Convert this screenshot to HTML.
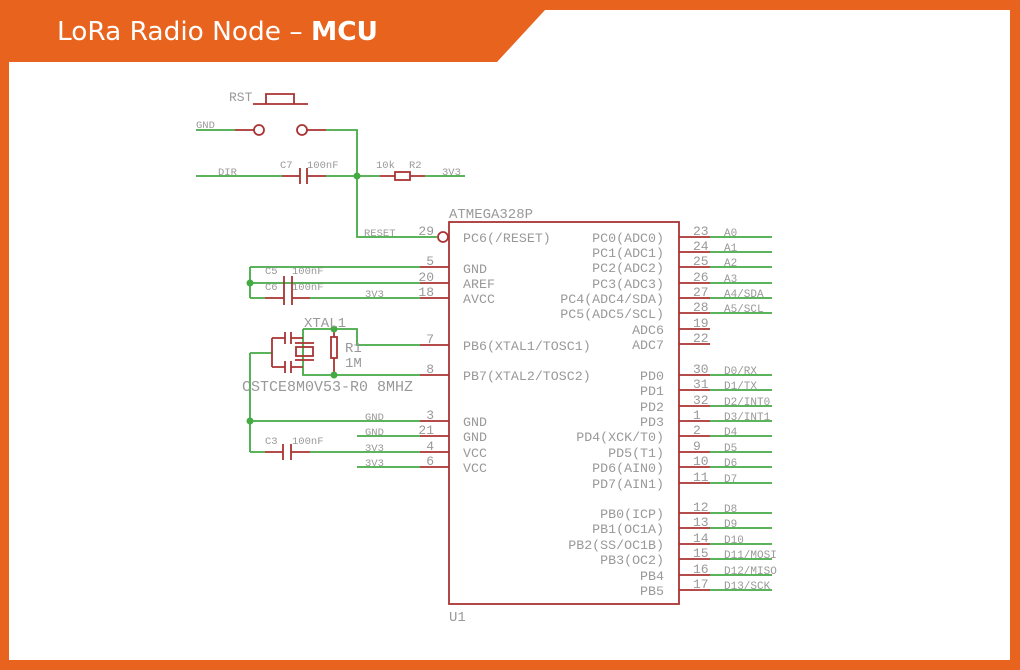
<!DOCTYPE html>
<html><head><meta charset="utf-8"><style>
html,body{margin:0;padding:0;background:#e8641e;}
svg{display:block}
.t{font-family:"Liberation Mono",monospace;fill:#999;}
</style></head><body>
<svg width="1020" height="670" xmlns="http://www.w3.org/2000/svg">
<rect x="0" y="0" width="1020" height="670" fill="#e8641e"/>
<polygon points="9,62 497,62 545,10 1010,10 1010,660 9,660" fill="#fff"/>
<text x="57" y="40" font-family="DejaVu Sans, sans-serif" font-size="26" fill="#fff" textLength="321" lengthAdjust="spacingAndGlyphs">LoRa Radio Node – <tspan font-weight="bold">MCU</tspan></text>

<g fill="none" stroke-width="1.8">
<rect x="449" y="222" width="230" height="382" stroke="#a33"/>
<g stroke="#4a4">
<path d="M196 130H235M326 130H357V237H437"/>
<path d="M196 176H282M326 176H380M425 176H465"/>
<path d="M250 267H420M250 267V298M250 283H420M250 298H265M310 298H420"/>
<path d="M303 329H357V345H420M303 329V375H420"/>
<path d="M250 353H272M250 353V452M250 421H420M250 452H265M310 452H420M357 436H420M357 467H420"/>
</g>
<g stroke="#a33">
<path d="M235 130H254M307 130H326"/>
<circle cx="259" cy="130" r="5"/><circle cx="302" cy="130" r="5"/>
<path d="M253 104H308M266 104V94H294V104"/>
<path d="M282 176H300M300 168V184M307 168V184M307 176H326M380 176H395M410 176H425"/>
<rect x="395" y="172" width="15" height="8"/>
<circle cx="443" cy="237" r="5"/>
<path d="M265 298H284M284 276V305M292 276V305M292 298H310"/>
<path d="M265 452H283M283 444V460M291 444V460M291 452H310"/>
<path d="M272 338H285M285 332V344M291 332V344M291 338H303M272 367H285M285 361V373M291 361V373M291 367H303M272 338V367"/>
<rect x="296" y="347" width="17" height="9"/><path d="M295 343H314M295 360H314"/>
<path d="M334 329V375"/><rect x="331" y="337" width="6" height="21" fill="#fff"/>
<path d="M420 267H449M420 283H449M420 298H449M420 345H449M420 375H449M420 421H449M420 436H449M420 452H449M420 467H449"/>
</g>
</g>
<g fill="#4a4"><circle cx="357" cy="176" r="3.5"/><circle cx="250" cy="283" r="3.5"/><circle cx="250" cy="421" r="3.5"/><circle cx="334" cy="329" r="3.5"/><circle cx="334" cy="375" r="3.5"/></g>

<g stroke-width="1.8" fill="none">
<g stroke="#a33"><path d="M679 237H710M679 252H710M679 267H710M679 283H710M679 298H710M679 313H710M679 329H710M679 344H710M679 375H710M679 390H710M679 406H710M679 421H710M679 436H710M679 452H710M679 467H710M679 483H710M679 513H710M679 528H710M679 544H710M679 559H710M679 575H710M679 590H710"/></g>
<g stroke="#4a4"><path d="M710 237H772M710 252H772M710 267H772M710 283H772M710 298H772M710 313H772M710 375H772M710 390H772M710 406H772M710 421H772M710 436H772M710 452H772M710 467H772M710 483H772M710 513H772M710 528H772M710 544H772M710 559H772M710 575H772M710 590H772"/></g>
</g>

<g class="t" font-size="13">
<text x="229" y="101">RST</text>
<text x="449" y="218" font-size="14">ATMEGA328P</text>
<text x="449" y="621" font-size="14">U1</text>
<text x="242" y="391" font-size="15">CSTCE8M0V53-R0 8MHZ</text>
<text x="304" y="327" font-size="14">XTAL1</text>
<text x="345" y="352" font-size="14">R1</text>
<text x="345" y="367" font-size="14">1M</text>
</g>
<g class="t" font-size="10.5">
<text x="196" y="128">GND</text><text x="218" y="175">DIR</text>
<text x="280" y="168">C7</text><text x="307" y="168">100nF</text>
<text x="376" y="168">10k</text><text x="409" y="168">R2</text><text x="442" y="175">3V3</text>
<text x="364" y="236">RESET</text>
<text x="265" y="274">C5</text><text x="292" y="274">100nF</text>
<text x="265" y="290">C6</text><text x="292" y="290">100nF</text>
<text x="365" y="297">3V3</text>
<text x="265" y="444">C3</text><text x="292" y="444">100nF</text>
<text x="365" y="420">GND</text><text x="365" y="435">GND</text><text x="365" y="451">3V3</text><text x="365" y="466">3V3</text>
</g>
<g class="t" font-size="13" text-anchor="end">
<text x="434" y="235">29</text><text x="434" y="265">5</text><text x="434" y="281">20</text><text x="434" y="296">18</text>
<text x="434" y="343">7</text><text x="434" y="373">8</text><text x="434" y="419">3</text><text x="434" y="434">21</text><text x="434" y="450">4</text><text x="434" y="465">6</text>
</g>
<g class="t" font-size="13.3">
<text x="463" y="242">PC6(/RESET)</text><text x="463" y="273">GND</text><text x="463" y="288">AREF</text><text x="463" y="303">AVCC</text>
<text x="463" y="350">PB6(XTAL1/TOSC1)</text><text x="463" y="380">PB7(XTAL2/TOSC2)</text>
<text x="463" y="426">GND</text><text x="463" y="441">GND</text><text x="463" y="457">VCC</text><text x="463" y="472">VCC</text>
</g>
<g class="t" font-size="13.3" text-anchor="end">
<text x="664" y="242">PC0(ADC0)</text><text x="664" y="257">PC1(ADC1)</text><text x="664" y="272">PC2(ADC2)</text><text x="664" y="288">PC3(ADC3)</text>
<text x="664" y="303">PC4(ADC4/SDA)</text><text x="664" y="318">PC5(ADC5/SCL)</text><text x="664" y="334">ADC6</text><text x="664" y="349">ADC7</text>
<text x="664" y="380">PD0</text><text x="664" y="395">PD1</text><text x="664" y="411">PD2</text><text x="664" y="426">PD3</text>
<text x="664" y="441">PD4(XCK/T0)</text><text x="664" y="457">PD5(T1)</text><text x="664" y="472">PD6(AIN0)</text><text x="664" y="488">PD7(AIN1)</text>
<text x="664" y="518">PB0(ICP)</text><text x="664" y="533">PB1(OC1A)</text><text x="664" y="549">PB2(SS/OC1B)</text><text x="664" y="564">PB3(OC2)</text>
<text x="664" y="580">PB4</text><text x="664" y="595">PB5</text>
</g>
<g class="t" font-size="13">
<text x="693" y="235">23</text><text x="693" y="250">24</text><text x="693" y="265">25</text><text x="693" y="281">26</text><text x="693" y="296">27</text><text x="693" y="311">28</text><text x="693" y="327">19</text><text x="693" y="342">22</text>
<text x="693" y="373">30</text><text x="693" y="388">31</text><text x="693" y="404">32</text><text x="693" y="419">1</text><text x="693" y="434">2</text><text x="693" y="450">9</text><text x="693" y="465">10</text><text x="693" y="481">11</text>
<text x="693" y="511">12</text><text x="693" y="526">13</text><text x="693" y="542">14</text><text x="693" y="557">15</text><text x="693" y="573">16</text><text x="693" y="588">17</text>
</g>
<g class="t" font-size="11">
<text x="724" y="236">A0</text><text x="724" y="251">A1</text><text x="724" y="266">A2</text><text x="724" y="282">A3</text><text x="724" y="297">A4/SDA</text><text x="724" y="312">A5/SCL</text>
<text x="724" y="374">D0/RX</text><text x="724" y="389">D1/TX</text><text x="724" y="405">D2/INT0</text><text x="724" y="420">D3/INT1</text><text x="724" y="435">D4</text><text x="724" y="451">D5</text><text x="724" y="466">D6</text><text x="724" y="482">D7</text>
<text x="724" y="512">D8</text><text x="724" y="527">D9</text><text x="724" y="543">D10</text><text x="724" y="558">D11/MOSI</text><text x="724" y="574">D12/MISO</text><text x="724" y="589">D13/SCK</text>
</g>
</svg>
</body></html>
